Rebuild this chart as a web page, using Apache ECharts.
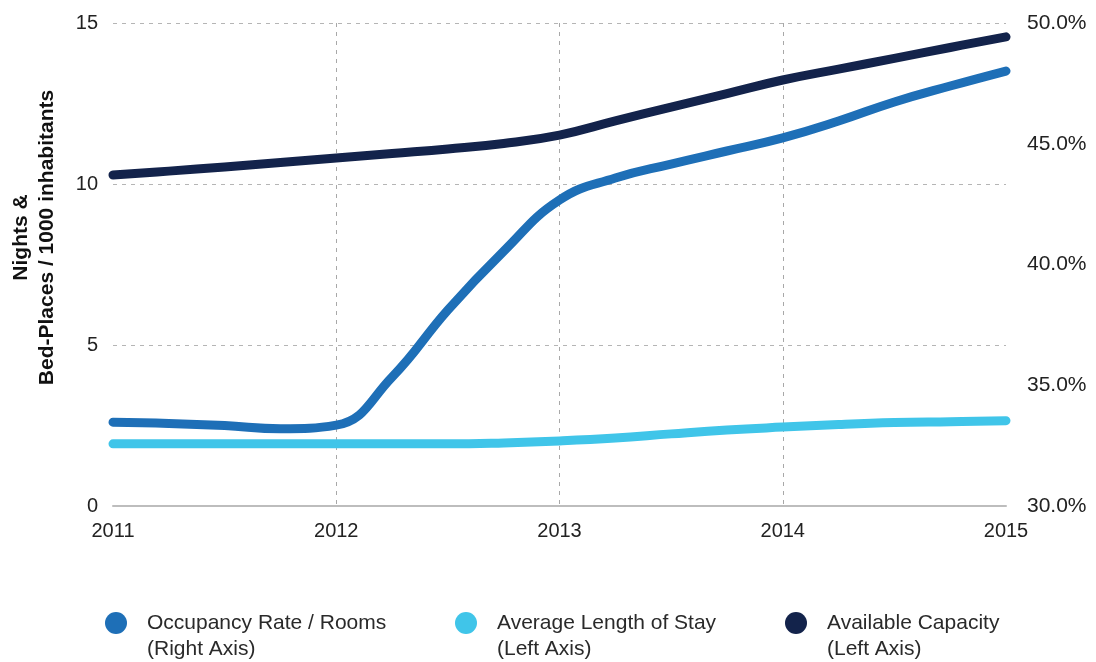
<!DOCTYPE html>
<html>
<head>
<meta charset="utf-8">
<title>Occupancy, stay length and capacity</title>
<script src="https://cdn.jsdelivr.net/npm/echarts@6/dist/echarts.min.js"></script>
<style>
  html, body { margin: 0; padding: 0; background: #fff; }
  #chart { width: 1096px; height: 662px; }
</style>
</head>
<body>
<div id="chart"></div>
<script>
// quarterly points, labels shown only on the first quarter of each year
var quarters = ['2011', '2011 Q2', '2011 Q3', '2011 Q4',
                '2012', '2012 Q2', '2012 Q3', '2012 Q4',
                '2013', '2013 Q2', '2013 Q3', '2013 Q4',
                '2014', '2014 Q2', '2014 Q3', '2014 Q4',
                '2015'];

var seriesNames = ['Occupancy Rate / Rooms', 'Average Length of Stay', 'Available Capacity'];
var axisNotes = ['(Right Axis)', '(Left Axis)', '(Left Axis)'];

// % (right axis)
var occupancy = [33.47, 33.42, 33.33, 33.20, 33.35, 35.34, 38.12, 40.55, 42.67,
                 43.58, 44.16, 44.70, 45.24, 45.94, 46.73, 47.39, 48.01];
// nights (left axis)
var stayLength = [1.93, 1.93, 1.93, 1.93, 1.93, 1.93, 1.93, 1.96, 2.02,
                  2.11, 2.24, 2.36, 2.45, 2.53, 2.59, 2.62, 2.65];
// bed-places / 1000 inhabitants (left axis)
var capacity = [10.28, 10.40, 10.53, 10.67, 10.81, 10.95, 11.09, 11.26, 11.52,
                11.96, 12.39, 12.81, 13.23, 13.57, 13.90, 14.24, 14.57];

var colors = ['#1e6fb7', '#40c5e9', '#13234b'];
var FONT = 'Liberation Sans';

var myChart = echarts.init(document.getElementById('chart'));

function legendFor(i, left) {
	return {
		left: left,
		top: 584,
		padding: 0,
		icon: 'circle',
		itemWidth: 22,
		itemHeight: 22,
		selectedMode: false,
		data: [seriesNames[i]],
		// empty first line keeps the dot level with the first text line
		formatter: function (name) {
			return '\n' + name + '\n' + axisNotes[seriesNames.indexOf(name)];
		},
		textStyle: {
			fontFamily: FONT,
			fontSize: 21,
			lineHeight: 26,
			color: '#2a2a2a',
			padding: [0, 0, 0, 15]
		}
	};
}

function lineSeries(i, data, axisIndex) {
	return {
		name: seriesNames[i],
		type: 'line',
		yAxisIndex: axisIndex,
		smooth: 0.45,
		showSymbol: false,
		symbol: 'circle',
		color: colors[i],
		lineStyle: { width: 9, color: colors[i], cap: 'round', join: 'round' },
		data: data
	};
}

var option = {
	animation: false,
	backgroundColor: '#fff',
	textStyle: { fontFamily: FONT },
	grid: { left: 113, right: 90, top: 23, bottom: 156, outerBoundsMode: 'none' },
	legend: [legendFor(0, 105), legendFor(1, 455), legendFor(2, 785)],
	xAxis: {
		type: 'category',
		boundaryGap: false,
		data: quarters,
		axisLine: { lineStyle: { color: '#bdbdbd', width: 2 } },
		axisTick: { show: false },
		axisLabel: {
			interval: 3,
			margin: 15,
			fontSize: 20,
			color: '#222',
			fontFamily: FONT,
			formatter: function (v) { return v.slice(0, 4); }
		},
		splitLine: {
			show: true,
			interval: function (idx) { return idx % 4 === 0 && idx > 0 && idx < quarters.length - 1; },
			lineStyle: { color: '#a8a8a8', type: [4, 5], width: 1 }
		}
	},
	yAxis: [{
		type: 'value',
		min: 0,
		max: 15,
		interval: 5,
		name: 'Nights &\nBed-Places / 1000 inhabitants',
		nameLocation: 'middle',
		nameRotate: 90,
		nameGap: 53,
		nameTextStyle: {
			fontFamily: FONT,
			fontSize: 21,
			fontWeight: 'bold',
			color: '#111',
			lineHeight: 26,
			padding: [0, 0, 0, 54]
		},
		axisLine: { show: false },
		axisTick: { show: false },
		axisLabel: { margin: 15, fontSize: 20, color: '#222', fontFamily: FONT },
		splitLine: { lineStyle: { color: '#b5b5b5', type: [4, 5], width: 1 } }
	}, {
		type: 'value',
		min: 30,
		max: 50,
		interval: 5,
		position: 'right',
		axisLine: { show: false },
		axisTick: { show: false },
		splitLine: { show: false },
		axisLabel: {
			margin: 21,
			fontSize: 21,
			color: '#222',
			fontFamily: FONT,
			formatter: function (v) { return v.toFixed(1) + '%'; }
		}
	}],
	series: [
		lineSeries(1, stayLength, 0),
		lineSeries(0, occupancy, 1),
		lineSeries(2, capacity, 0)
	]
};

myChart.setOption(option);
</script>
</body>
</html>
